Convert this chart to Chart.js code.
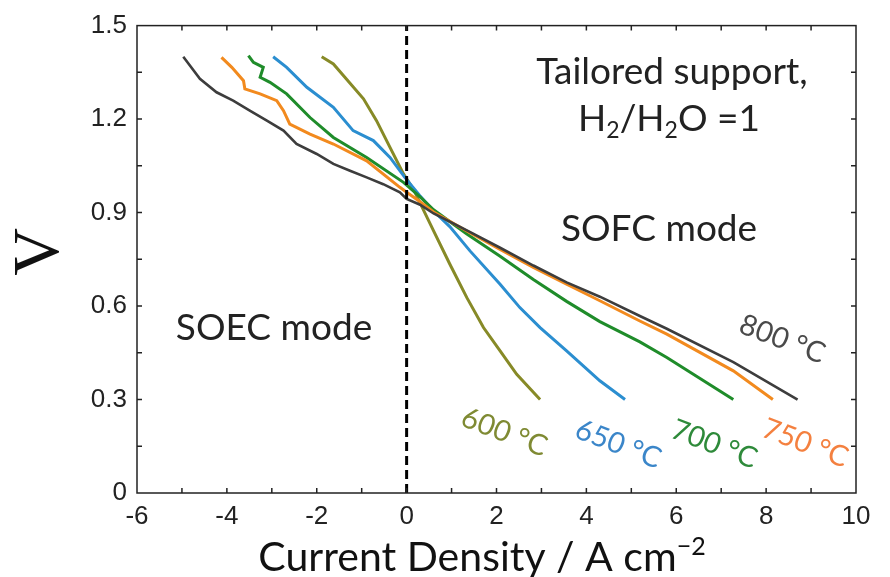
<!DOCTYPE html>
<html>
<head>
<meta charset="utf-8">
<script src="https://cdn.jsdelivr.net/npm/chart.js@4.4.1/dist/chart.umd.min.js"></script>
<style>
  html, body { margin: 0; padding: 0; background: #fff; }
  #wrap { width: 890px; height: 577px; }
</style>
</head>
<body>
<div id="wrap"><canvas id="ivChart" width="890" height="577"></canvas></div>
<script>
// i-V curves, one pair of arrays per temperature (current density in A cm-2, cell voltage in V)
const j600 = [-1.89, -1.63, -0.96, -0.67, -0.37, -0.07, 0.15, 0.60, 0.96, 1.34, 1.71, 2.08, 2.45, 2.97];
const v600 = [1.400, 1.377, 1.265, 1.195, 1.109, 1.024, 0.975, 0.841, 0.735, 0.627, 0.531, 0.456, 0.381, 0.300];

const j650 = [-2.97, -2.67, -2.22, -1.63, -1.19, -0.74, -0.37, -0.04, 0.29, 0.60, 0.96, 1.41, 2.08, 2.52, 2.97, 3.56, 4.30, 4.86];
const v650 = [1.400, 1.366, 1.302, 1.238, 1.163, 1.131, 1.077, 1.013, 0.955, 0.905, 0.855, 0.777, 0.670, 0.595, 0.531, 0.456, 0.360, 0.300];

const j700 = [-3.52, -3.41, -3.19, -3.26, -3.04, -2.67, -2.15, -1.63, -0.89, -0.07, 0.30, 0.60, 1.34, 2.08, 2.82, 3.56, 4.30, 5.19, 5.79, 7.27];
const v700 = [1.404, 1.382, 1.366, 1.334, 1.318, 1.281, 1.205, 1.141, 1.077, 0.997, 0.950, 0.909, 0.831, 0.760, 0.685, 0.615, 0.550, 0.485, 0.435, 0.300];

const j750 = [-4.12, -3.89, -3.63, -3.60, -3.26, -2.89, -2.74, -2.60, -2.15, -1.63, -0.89, -0.15, 0.00, 0.30, 0.60, 1.34, 2.08, 2.82, 3.56, 4.30, 5.19, 5.79, 7.27, 8.15];
const v750 = [1.398, 1.366, 1.323, 1.297, 1.281, 1.259, 1.227, 1.184, 1.152, 1.120, 1.066, 0.981, 0.965, 0.935, 0.902, 0.841, 0.782, 0.724, 0.670, 0.617, 0.552, 0.510, 0.392, 0.300];

const j800 = [-4.97, -4.60, -4.23, -3.86, -3.49, -3.11, -2.74, -2.45, -2.00, -1.63, -1.26, -0.89, -0.52, -0.15, 0.00, 0.30, 0.60, 1.34, 2.08, 2.82, 3.56, 4.30, 5.19, 5.79, 7.27, 8.70];
const v800 = [1.400, 1.329, 1.286, 1.259, 1.227, 1.195, 1.163, 1.120, 1.088, 1.056, 1.034, 1.013, 0.991, 0.965, 0.944, 0.925, 0.897, 0.843, 0.787, 0.730, 0.676, 0.630, 0.568, 0.527, 0.420, 0.300];

// open-circuit divider between electrolysis and fuel-cell side
const ocvLineJ = [0, 0];
const ocvLineV = [0, 1.5];

const temperatures = ['600 \u00B0C', '650 \u00B0C', '700 \u00B0C', '750 \u00B0C', '800 \u00B0C'];
const lineColors = ['#878a27', '#2b8ed0', '#1f8c2a', '#f28a1e', '#3d3d3d'];
const labelColors = ['#7f8a33', '#3b86c9', '#2e8a3a', '#f4803f', '#4a4a4a'];

const xTickValues = [-6, -4, -2, 0, 2, 4, 6, 8, 10];
const xTickLabels = ['-6', '-4', '-2', '0', '2', '4', '6', '8', '10'];
const yTickValues = [0, 0.3, 0.6, 0.9, 1.2, 1.5];
const yTickLabels = ['0', '0.3', '0.6', '0.9', '1.2', '1.5'];

function toPoints(xs, ys) {
    return xs.map((x, i) => ({ x: x, y: ys[i] }));
}

const curves = [[j600, v600], [j650, v650], [j700, v700], [j750, v750], [j800, v800]];

const datasets = curves.map((c, i) => ({
    label: temperatures[i],
    data: toPoints(c[0], c[1]),
    borderColor: lineColors[i],
    borderWidth: i === 4 ? 2.6 : 3,
    pointRadius: 0,
    tension: 0,
    showLine: true,
    order: 5 - i
}));

datasets.push({
    label: 'OCV',
    data: toPoints(ocvLineJ, ocvLineV),
    borderColor: '#000',
    borderWidth: 3,
    borderDash: [9, 5],
    pointRadius: 0,
    showLine: true,
    order: 0
});

function pickLabel(values, labels, v) {
    const k = values.findIndex(t => Math.abs(t - v) < 1e-6);
    return k >= 0 ? labels[k] : '';
}

function drawText(ctx, text, x, y, font, color, angle) {
    ctx.save();
    ctx.translate(x, y);
    if (angle) ctx.rotate(angle * Math.PI / 180);
    ctx.font = font;
    ctx.fillStyle = color;
    ctx.textAlign = 'center';
    ctx.textBaseline = 'alphabetic';
    ctx.fillText(text, 0, 0);
    ctx.restore();
}

// draws a run of [text, sub/sup] pieces centred on x
function drawRich(ctx, pieces, cx, y, size, color) {
    const small = Math.round(size * 0.62);
    let total = 0;
    pieces.forEach(p => {
        ctx.font = (p[1] ? small : size) + 'px Lato';
        total += ctx.measureText(p[0]).width;
    });
    let x = cx - total / 2;
    ctx.fillStyle = color;
    ctx.textAlign = 'left';
    ctx.textBaseline = 'alphabetic';
    pieces.forEach(p => {
        ctx.font = (p[1] ? small : size) + 'px Lato';
        const dy = p[1] === 'sub' ? size * 0.2 : (p[1] === 'sup' ? -size * 0.38 : 0);
        ctx.fillText(p[0], x, y + dy);
        x += ctx.measureText(p[0]).width;
    });
}

const framePlugin = {
    id: 'frame',
    afterDatasetsDraw(chart) {
        const ctx = chart.ctx;
        const a = chart.chartArea;
        const xs = chart.scales.x, ys = chart.scales.y;
        ctx.save();
        ctx.strokeStyle = '#222';
        ctx.lineWidth = 1.5;
        ctx.strokeRect(a.left, a.top, a.right - a.left, a.bottom - a.top);

        // inward ticks on all four sides
        ctx.beginPath();
        for (let v = -5; v < 10; v++) {
            const px = xs.getPixelForValue(v);
            ctx.moveTo(px, a.bottom); ctx.lineTo(px, a.bottom - 5);
            ctx.moveTo(px, a.top); ctx.lineTo(px, a.top + 5);
        }
        for (let k = 1; k < 10; k++) {
            const py = ys.getPixelForValue(k * 0.15);
            ctx.moveTo(a.left, py); ctx.lineTo(a.left + 5, py);
            ctx.moveTo(a.right, py); ctx.lineTo(a.right - 5, py);
        }
        ctx.stroke();
        ctx.restore();

        // temperature tags along the curve ends
        const tagPos = [[501, 441], [615, 453], [711, 453], [802, 452], [779, 348]];
        temperatures.forEach((t, i) => {
            drawText(ctx, t, tagPos[i][0], tagPos[i][1], '29px Lato', labelColors[i], 21);
        });

        drawText(ctx, 'Tailored support,', 672, 84, '37px Lato', '#222', 0);
        drawRich(ctx, [['H', 0], ['2', 'sub'], ['/H', 0], ['2', 'sub'], ['O =1', 0]], 669, 131, 37, '#222');
        drawText(ctx, 'SOFC mode', 659, 241, '37px Lato', '#222', 0);
        drawText(ctx, 'SOEC mode', 274, 340, '37px Lato', '#222', 0);

        // axis titles
        drawRich(ctx, [['Current Density / A cm', 0], ['\u22122', 'sup']], 482, 571, 41, '#111');
        ctx.save();
        ctx.translate(58, 252);
        ctx.rotate(-Math.PI / 2);
        ctx.font = '66px "Liberation Serif"';
        ctx.fillStyle = '#111';
        ctx.textAlign = 'center';
        ctx.textBaseline = 'alphabetic';
        ctx.fillText('V', 0, 0);
        ctx.restore();
    }
};

const tickFont = { family: 'Liberation Sans', size: 26 };

new Chart(document.getElementById('ivChart'), {
    type: 'scatter',
    data: { datasets: datasets },
    options: {
        responsive: false,
        animation: false,
        devicePixelRatio: 1,
        layout: { padding: { top: 25, right: 34, left: 0, bottom: 0 } },
        plugins: {
            legend: { display: false },
            tooltip: { enabled: false }
        },
        scales: {
            x: {
                type: 'linear',
                min: -6,
                max: 10,
                grid: { display: false, drawTicks: false },
                border: { display: false },
                afterBuildTicks: s => { s.ticks = xTickValues.map(v => ({ value: v })); },
                afterFit: s => { s.height = 84; },
                ticks: {
                    font: tickFont,
                    color: '#222',
                    padding: 8,
                    maxRotation: 0,
                    autoSkip: false,
                    callback: v => pickLabel(xTickValues, xTickLabels, v)
                }
            },
            y: {
                type: 'linear',
                min: 0,
                max: 1.5,
                grid: { display: false, drawTicks: false },
                border: { display: false },
                afterBuildTicks: s => { s.ticks = yTickValues.map(v => ({ value: v })); },
                afterFit: s => { s.width = 137; },
                ticks: {
                    font: tickFont,
                    color: '#222',
                    padding: 10,
                    autoSkip: false,
                    callback: v => pickLabel(yTickValues, yTickLabels, v)
                }
            }
        }
    },
    plugins: [framePlugin]
});
</script>
</body>
</html>
